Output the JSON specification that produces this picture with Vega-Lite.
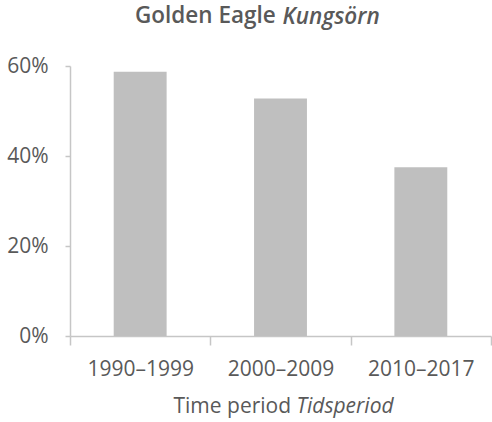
{
  "$schema": "https://vega.github.io/schema/vega-lite/v6.json",
  "width": 421,
  "height": 270,
  "autosize": {"type": "none"},
  "padding": {"left": 70, "top": 66, "right": 1, "bottom": 86},
  "background": "white",
  "title": {
    "text": "Golden Eagle",
    "anchor": "start",
    "frame": "group",
    "dx": 65,
    "offset": -40,
    "baseline": "alphabetic",
    "font": "Open Sans",
    "fontSize": 22.5,
    "fontWeight": 600,
    "color": "#595959"
  },
  "data": {
    "values": [
      {"period": "1990–1999", "share": 0.587},
      {"period": "2000–2009", "share": 0.528},
      {"period": "2010–2017", "share": 0.375}
    ]
  },
  "config": {
    "view": {"stroke": null},
    "font": "Open Sans",
    "axis": {
      "grid": false,
      "domainColor": "#c6c6c6",
      "tickColor": "#c6c6c6",
      "domainWidth": 1.5,
      "tickWidth": 1.5,
      "labelFont": "Open Sans",
      "labelFontSize": 21,
      "labelColor": "#595959",
      "titleFont": "Open Sans",
      "titleFontSize": 21,
      "titleFontWeight": "normal",
      "titleColor": "#595959"
    }
  },
  "encoding": {
    "x": {
      "field": "period",
      "type": "nominal",
      "sort": null,
      "scale": {"paddingInner": 0, "paddingOuter": 0}
    },
    "y": {
      "field": "share",
      "type": "quantitative",
      "scale": {"domain": [0, 0.6], "nice": false}
    }
  },
  "layer": [
    {
      "mark": {"type": "bar", "color": "#bfbfbf", "width": {"band": 0.377}},
      "encoding": {
        "x": {
          "field": "period",
          "type": "nominal",
          "sort": null,
          "axis": {
            "orient": "bottom",
            "tickBand": "extent",
            "labelAngle": 0,
            "tickSize": 9,
            "labelPadding": 13,
            "title": "Time period",
            "titleAlign": "left",
            "titleAnchor": "start",
            "titleBaseline": "alphabetic",
            "titleX": 103,
            "titleY": 76
          }
        },
        "y": {
          "field": "share",
          "type": "quantitative",
          "axis": {
            "orient": "left",
            "values": [0, 0.2, 0.4, 0.6],
            "format": ".0%",
            "tickSize": 5,
            "labelPadding": 17,
            "title": null
          }
        }
      }
    },
    {
      "mark": {"type": "bar", "opacity": 0, "width": {"band": 0.377}},
      "encoding": {
        "x": {
          "field": "period",
          "type": "nominal",
          "sort": null,
          "axis": {
            "orient": "top",
            "labels": false,
            "ticks": false,
            "domain": false,
            "title": "Tidsperiod",
            "titleFontStyle": "italic",
            "titleAlign": "left",
            "titleAnchor": "start",
            "titleBaseline": "alphabetic",
            "titleX": 226,
            "titleY": 346
          }
        },
        "y": {
          "field": "share",
          "type": "quantitative",
          "axis": {
            "orient": "right",
            "labels": false,
            "ticks": false,
            "domain": false,
            "title": "Kungsörn",
            "titleAngle": 0,
            "titleFontStyle": "italic",
            "titleFontSize": 22.5,
            "titleFontWeight": 600,
            "titleAlign": "left",
            "titleAnchor": "start",
            "titleBaseline": "alphabetic",
            "titleX": -209,
            "titleY": -43
          }
        }
      }
    }
  ],
  "resolve": {"axis": {"x": "independent", "y": "independent"}}
}
